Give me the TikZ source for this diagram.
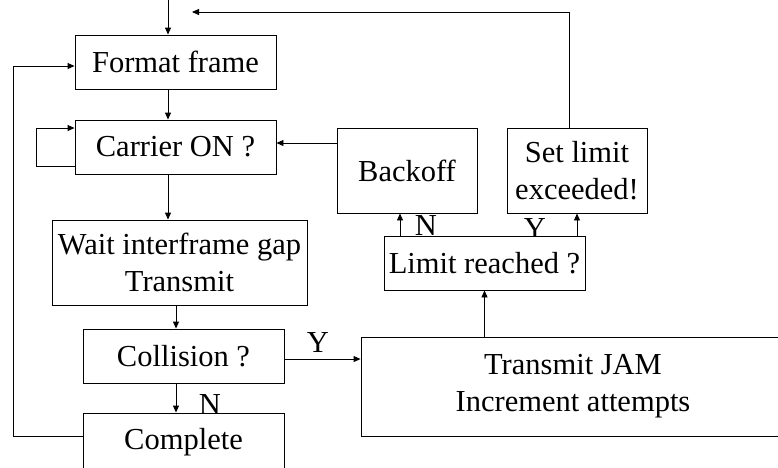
\documentclass[tikz,border=0pt]{standalone}
\usepackage{fontspec}
\setmainfont{Liberation Serif}
\usetikzlibrary{arrows.meta}
\tikzset{
  box/.style={draw, fill=white, inner sep=0pt, align=center, line width=0.9pt},
  arr/.style={line width=0.9pt, -{Triangle[length=7pt,width=6pt]}},
  lbl/.style={inner sep=0pt, anchor=base}
}
\begin{document}
\begin{tikzpicture}[x=1pt,y=-1pt,font=\fontsize{30.5}{37}\selectfont]
\useasboundingbox (0,0) rectangle (778,467);
\clip (0,0) rectangle (778,467);
\fill[white] (0,0) rectangle (778,467);
% labels (drawn first so boxes can overlap them)
\node[lbl] (nlab1) at (210,414) {N};
\node[lbl] (ylab1) at (318,352) {Y};
\node[lbl] (nlab2) at (426,235) {N};
\node[lbl] (ylab2) at (535,238) {Y};
% boxes
\node[box, minimum width=201pt, minimum height=54pt] (fmt) at (175.5,62) {Format frame};
\node[box, minimum width=201pt, minimum height=54pt] (car) at (175.5,147) {Carrier ON ?};
\node[box, minimum width=255pt, minimum height=85pt] (wait) at (179.5,262.5) {Wait interframe gap\\Transmit};
\node[box, minimum width=201pt, minimum height=54pt] (col) at (183.5,356) {Collision ?};
\node[box, minimum width=201pt, minimum height=58pt] (comp) at (183.5,442) {Complete};
\node[box, minimum width=424pt, minimum height=99pt] (jam) at (573,386.5) {Transmit JAM\\Increment attempts};
\node[box, minimum width=201pt, minimum height=54pt] (lim) at (484.5,263) {Limit reached ?};
\node[box, minimum width=140pt, minimum height=85pt] (back) at (407,170.5) {Backoff};
\node[box, minimum width=140pt, minimum height=85pt] (set) at (577,170.5) {Set limit\\exceeded!};
% helper coordinates
\coordinate (entry) at (168,-2);
\coordinate (ret) at (192,12);
\coordinate (lx) at (13,0);
\coordinate (sl) at (36,0);
\coordinate (fin) at ([yshift=-4pt]fmt.west);
\coordinate (cout) at ([yshift=-19pt]car.west);
\coordinate (cin) at ([yshift=19pt]car.west);
\coordinate (bk) at ([yshift=4pt]car.east);
% connectors
\draw[arr] (entry) -- (entry |- fmt.north);
\draw[arr] ([xshift=-7.5pt]fmt.south) -- ([xshift=-7.5pt]car.north);
\draw[arr] ([xshift=-7.5pt]car.south) -- ([xshift=-7.5pt]car.south |- wait.north);
\draw[arr] ([xshift=-7.5pt]col.north |- wait.south) -- ([xshift=-7.5pt]col.north);
\draw[arr] ([xshift=-7.5pt]col.south) -- ([xshift=-7.5pt]comp.north);
\draw[arr] ([yshift=-3pt]col.east) -- ([yshift=-3pt]col.east -| jam.west);
\draw[arr] (lim.south |- jam.north) -- (lim.south);
\draw[arr] ([xshift=-7pt]back.south |- lim.north) -- ([xshift=-7pt]back.south);
\draw[arr] (set.south |- lim.north) -- (set.south);
\draw[arr] (bk -| back.west) -- (bk);
\draw[arr] ([xshift=-8pt]set.north) |- (ret);
\draw[arr] ([yshift=6pt]comp.west) -| (fin -| lx) -- (fin);
\draw[arr] (cout) -| (cin -| sl) -- (cin);
\end{tikzpicture}
\end{document}
